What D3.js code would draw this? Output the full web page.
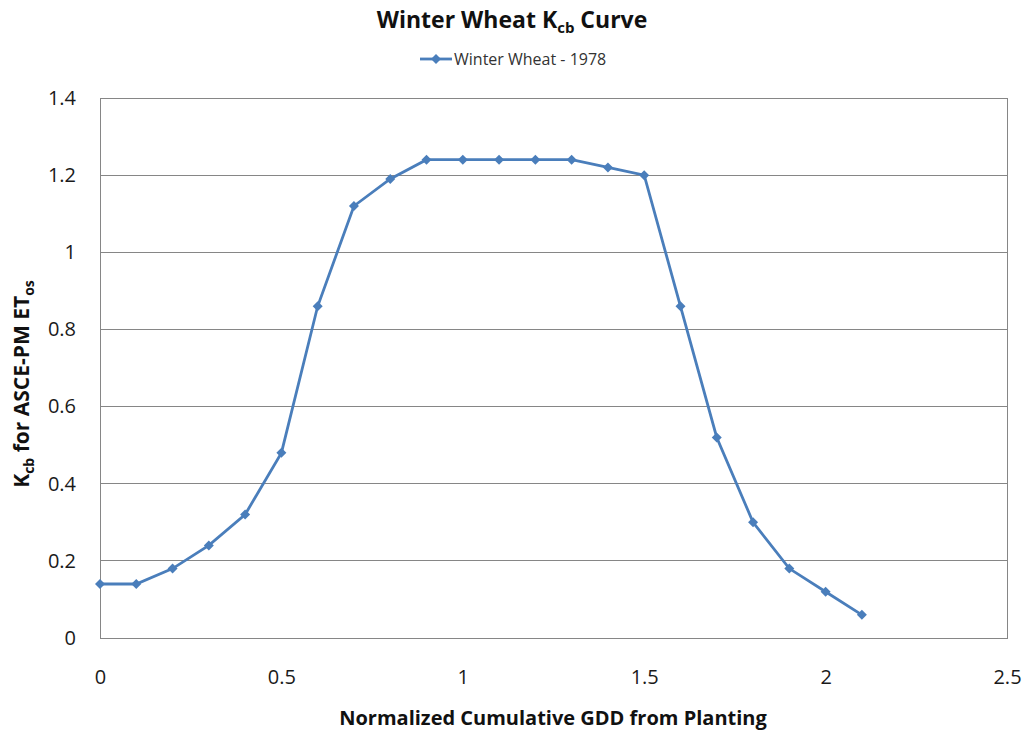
<!DOCTYPE html>
<html><head><meta charset="utf-8">
<script src="https://cdn.jsdelivr.net/npm/d3@7"></script>
<style>body{margin:0;background:#fff;} svg{font-family:"Open Sans",sans-serif;}</style>
</head><body>
<svg id="c" width="1028" height="735"></svg>
<script>
const xValues = [0,0.1,0.2,0.3,0.4,0.5,0.6,0.7,0.8,0.9,1.0,1.1,1.2,1.3,1.4,1.5,1.6,1.7,1.8,1.9,2.0,2.1];
const kcbValues = [0.14,0.14,0.18,0.24,0.32,0.48,0.86,1.12,1.19,1.24,1.24,1.24,1.24,1.24,1.22,1.20,0.86,0.52,0.30,0.18,0.12,0.06];
const xTicks = [0,0.5,1,1.5,2,2.5];
const yTicks = [0,0.2,0.4,0.6,0.8,1,1.2,1.4];
const seriesName = "Winter Wheat - 1978";

const svg = d3.select("#c");
const L=100,R=1007,T=98,B=638;
const x = d3.scaleLinear().domain([0,2.5]).range([L,R]);
const y = d3.scaleLinear().domain([0,1.4]).range([B,T]);
const col = "#4a7ebb";

// gridlines
svg.append("g").selectAll("line").data(yTicks.slice(1)).join("line")
  .attr("x1",L).attr("x2",R).attr("y1",d=>y(d)).attr("y2",d=>y(d))
  .attr("stroke","#868686").attr("stroke-width",1).attr("shape-rendering","crispEdges");
svg.append("rect").attr("x",L).attr("y",T).attr("width",R-L).attr("height",B-T)
  .attr("fill","none").attr("stroke","#868686").attr("shape-rendering","crispEdges");

const fmt = d=>String(d);
const ya = svg.append("g").attr("transform",`translate(${L},0)`)
  .call(d3.axisLeft(y).tickValues(yTicks).tickFormat(fmt).tickSize(0).tickPadding(24));
ya.select(".domain").remove();
ya.selectAll("text").attr("font-size",20).attr("fill","#1a1a1a").attr("font-family","Open Sans");
const xa = svg.append("g").attr("transform",`translate(0,${B})`)
  .call(d3.axisBottom(x).tickValues(xTicks).tickFormat(fmt).tickSize(0).tickPadding(32));
xa.select(".domain").remove();
xa.selectAll("text").attr("font-size",20).attr("fill","#1a1a1a").attr("font-family","Open Sans");

// line
const line = d3.line().x((d,i)=>x(xValues[i])).y(d=>y(d));
svg.append("path").datum(kcbValues).attr("d",line).attr("fill","none")
  .attr("stroke",col).attr("stroke-width",2.8);
const diamond = d3.symbol().type(d3.symbolSquare).size(50);
svg.append("g").selectAll("path").data(kcbValues).join("path")
  .attr("d",diamond).attr("transform",(d,i)=>`translate(${x(xValues[i])},${y(d)}) rotate(45)`)
  .attr("fill",col);

// title
const t = svg.append("text").attr("x",512).attr("y",28).attr("text-anchor","middle")
  .attr("font-size",23).attr("font-weight","bold").attr("fill","#111");
t.append("tspan").text("Winter Wheat K");
t.append("tspan").text("cb").attr("font-size",15).attr("dy",5);
t.append("tspan").text(" Curve").attr("dy",-5);

// legend
svg.append("line").attr("x1",420).attr("x2",452).attr("y1",59).attr("y2",59).attr("stroke",col).attr("stroke-width",2.8);
svg.append("path").attr("d",diamond).attr("transform","translate(436,59) rotate(45)").attr("fill",col);
svg.append("text").attr("x",454).attr("y",65).attr("font-size",16).attr("fill","#333").text(seriesName);

// x title
svg.append("text").attr("x",553).attr("y",725).attr("text-anchor","middle")
  .attr("font-size",20).attr("font-weight","bold").attr("fill","#111")
  .text("Normalized Cumulative GDD from Planting");

// y title
const yt = svg.append("text").attr("transform","translate(29,384) rotate(-90)").attr("text-anchor","middle")
  .attr("font-size",21).attr("font-weight","bold").attr("fill","#111");
yt.append("tspan").text("K");
yt.append("tspan").text("cb").attr("font-size",14).attr("dy",5);
yt.append("tspan").text(" for ASCE-PM ET").attr("dy",-5);
yt.append("tspan").text("os").attr("font-size",14).attr("dy",5);
</script>
</body></html>
